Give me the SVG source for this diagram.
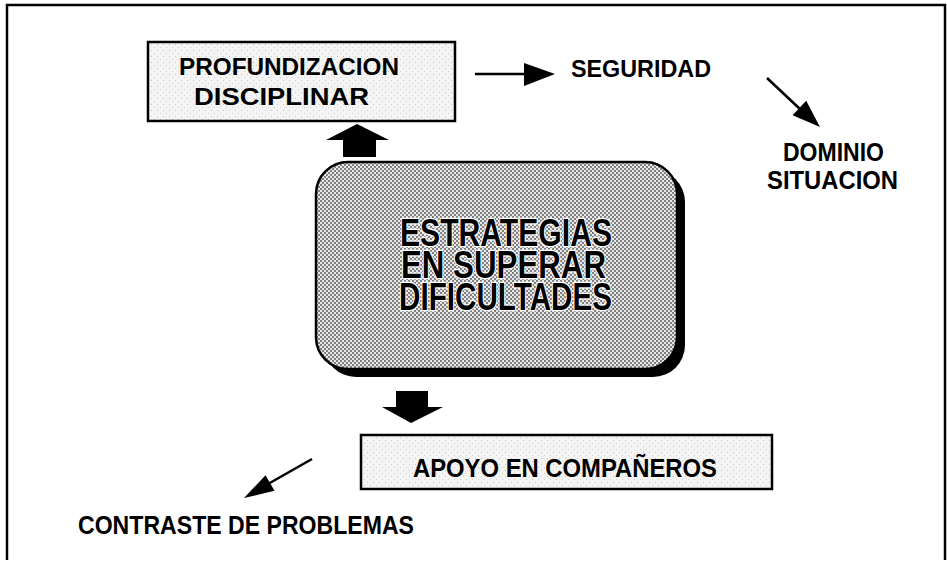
<svg xmlns="http://www.w3.org/2000/svg" width="947" height="562" viewBox="0 0 947 562">
<defs>
<pattern id="dither" width="4" height="4" patternUnits="userSpaceOnUse">
<rect width="4" height="4" fill="#e8e8e8"/>
<rect x="0" y="0" width="2" height="2" fill="#808080"/>
<rect x="2" y="2" width="2" height="2" fill="#808080"/>
</pattern>
<pattern id="stipple" width="6" height="6" patternUnits="userSpaceOnUse">
<rect width="6" height="6" fill="#f4f4f4"/>
<rect x="1" y="2" width="1" height="1" fill="#c8c8c8"/>
<rect x="4" y="5" width="1" height="1" fill="#d0d0d0"/>
</pattern>
</defs>
<style>
.t{font-family:"Liberation Sans",Arial,sans-serif;font-weight:bold;fill:#000;}
.box{fill:url(#stipple);stroke:#000;stroke-width:2.5;}
.big{font-size:39px;stroke:#fff;stroke-width:2.5;paint-order:stroke;stroke-linejoin:round;}
.ln{stroke:#000;stroke-width:2.5;fill:none;}
.hd{fill:#000;}
</style>
<rect width="947" height="562" fill="#fff"/>
<path d="M7,560 V5 H945 V560" fill="none" stroke="#000" stroke-width="2.5"/>

<g id="profundizacion">
<rect class="box" x="148" y="42" width="307" height="79"/>
<text class="t" x="179" y="75" font-size="23" textLength="220" lengthAdjust="spacingAndGlyphs">PROFUNDIZACION</text>
<text class="t" x="194" y="105" font-size="23" textLength="175" lengthAdjust="spacingAndGlyphs">DISCIPLINAR</text>
</g>

<g id="seguridad">
<text class="t" x="571" y="77" font-size="23" textLength="140" lengthAdjust="spacingAndGlyphs">SEGURIDAD</text>
</g>

<g id="dominio">
<text class="t" x="783" y="161" font-size="26" textLength="101" lengthAdjust="spacingAndGlyphs">DOMINIO</text>
<text class="t" x="767" y="189" font-size="26" textLength="131" lengthAdjust="spacingAndGlyphs">SITUACION</text>
</g>

<g id="estrategias">
<rect x="324" y="170" width="361" height="207" rx="32" fill="#000"/>
<rect x="316" y="162" width="361" height="207" rx="32" fill="url(#dither)" stroke="#000" stroke-width="2.5"/>
<text class="t big"><tspan x="400" y="246" textLength="212" lengthAdjust="spacingAndGlyphs">ESTRATEGIAS</tspan><tspan x="401" y="278" textLength="205" lengthAdjust="spacingAndGlyphs">EN SUPERAR</tspan><tspan x="399" y="310" textLength="213" lengthAdjust="spacingAndGlyphs">DIFICULTADES</tspan></text>
</g>

<g id="apoyo">
<rect class="box" x="361" y="435" width="411" height="54"/>
<text class="t" x="413" y="477" font-size="25" textLength="304" lengthAdjust="spacingAndGlyphs">APOYO EN COMPAÑEROS</text>
</g>

<g id="contraste">
<text class="t" x="78" y="534" font-size="25" textLength="336" lengthAdjust="spacingAndGlyphs">CONTRASTE DE PROBLEMAS</text>
</g>

<g id="connectors">
<polygon class="hd" points="357,124 389,140 376,140 376,157 343,157 343,140 326,140"/>
<polygon class="hd" points="396,391 428,391 428,407 443,407 411,423 382,407 396,407"/>
<line class="ln" x1="475" y1="74" x2="527" y2="74"/>
<polygon class="hd" points="524,63 555,74 524,86"/>
<line class="ln" x1="767" y1="78" x2="801" y2="110"/>
<polygon class="hd" points="792.6,115.3 820,127 806.2,100.7"/>
<line class="ln" x1="312" y1="459" x2="268" y2="484"/>
<polygon class="hd" points="274.5,490.8 244,498 265.5,475.2"/>
</g>
</svg>
